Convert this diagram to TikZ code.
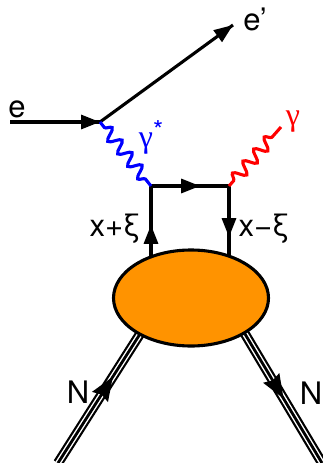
\documentclass[tikz,border=0pt]{standalone}
\usepackage{fontspec}
\setmainfont{TeX Gyre Heros}
\newfontfamily\grk{Liberation Serif}
\usetikzlibrary{arrows.meta}
\usetikzlibrary{shapes.geometric}
\usetikzlibrary{decorations.pathmorphing}
\usetikzlibrary{decorations.markings}

\begin{document}
\begin{tikzpicture}[x=1pt,y=-1pt,line width=3.1pt,
  lbl/.style={font=\fontsize{31}{32}\selectfont,inner sep=0pt},
  glbl/.style={font=\fontsize{32}{32}\selectfont\grk,inner sep=0pt},
  tip/.style={postaction={decorate},decoration={markings,
    mark=at position #1 with {\arrow{Triangle[length=19pt,width=14pt]}}}},
  bigtip/.style={postaction={decorate},decoration={markings,
    mark=at position #1 with {\arrow{Stealth[length=24pt,width=19pt,inset=3pt]}}}},
  photon/.style={decorate,decoration={snake,amplitude=6pt,segment length=16pt,
    pre length=7pt,post length=7pt}},
  nucleon/.style={line width=10pt,postaction={draw,white,line width=5.6pt},
    postaction={draw,black,line width=2.8pt}}]
\useasboundingbox (0,0) rectangle (323,463);
% vertices
\coordinate (ein) at (10,122);
\coordinate (v1) at (100,122);
\coordinate (eout) at (233,25);
\coordinate (v2) at (151,186);
\coordinate (v3) at (229,186);
\coordinate (gout) at (281,127);
\coordinate (q1) at (151,258);
\coordinate (q2) at (229,258);
\coordinate (nin) at (58,463);
\coordinate (nout) at (322,463);
\coordinate (n1) at (140,334);
\coordinate (n2) at (245,334);

% nucleon lines
\draw[nucleon] (nin) -- (n1);
\draw[nucleon] (n2) -- (nout);
\path (nin) -- (n1) coordinate[pos=0.67] (m1);
\path (n2) -- (nout) coordinate[pos=0.5] (m2);
\draw[bigtip=1,line width=0pt] (nin) -- (m1);
\draw[bigtip=1,line width=0pt] (n2) -- (m2);

% electron and quark lines
\draw[tip=1] (ein) -- (v1);
\draw[tip=1] (v1) -- (eout);
\draw[tip=0.63] (v2) -- (v3);
\draw[tip=0.46] (q1) -- (v2);
\draw[tip=0.71] (v3) -- (q2);
\draw[blue,photon] (v1) -- (v2);
\draw[red,photon] (v3) -- (gout);

\node[draw,fill=orange!85!yellow,ellipse,minimum width=155pt,minimum height=96pt,
  inner sep=0pt] (blob) at (191,298) {};

% labels
\node[lbl] (le) at (17,109) {e};
\node[lbl] (leout) at (255,19) {e'};
\node[glbl,blue] (lgs) at (151,137) {γ\raisebox{8pt}{\fontsize{26}{26}\selectfont\rmfamily *}};
\node[glbl,red] (lg) at (293,122) {γ};
\node[lbl] (lx1) at (115,229) {x+ξ};
\node[lbl] (lx2) at (264,229) {x−ξ};
\node[lbl] (ln1) at (78,392) {N};
\node[lbl] (ln2) at (311,393) {N};
\end{tikzpicture}
\end{document}
